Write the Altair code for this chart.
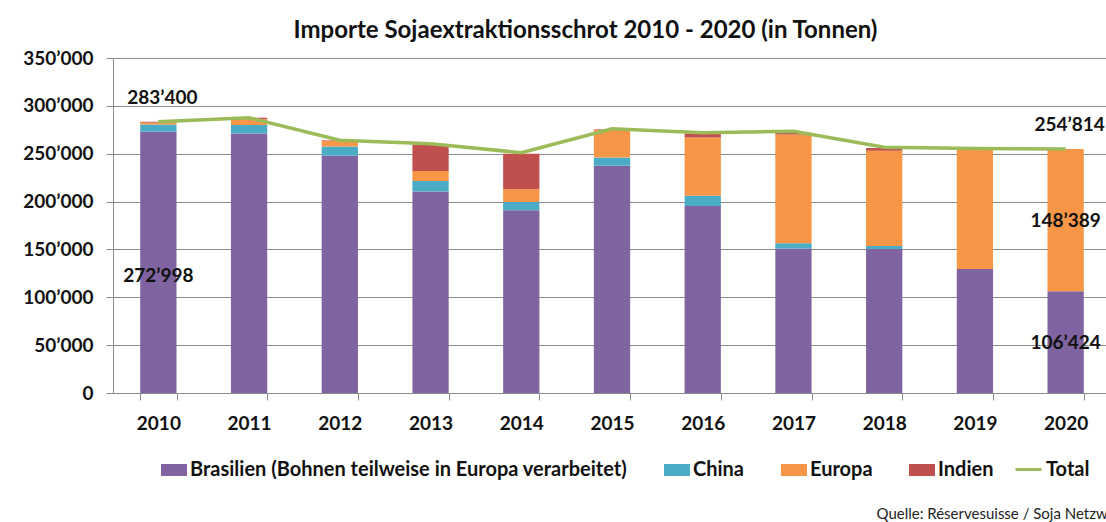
import altair as alt
import pandas as pd

years = ["2010", "2011", "2012", "2013", "2014", "2015", "2016", "2017", "2018", "2019", "2020"]
brasilien = [272998, 271000, 248000, 210500, 191000, 237500, 195500, 151000, 150500, 129500, 106424]
china = [7500, 9000, 9500, 11000, 8500, 8500, 10500, 5500, 3000, 0, 0]
europa = [2000, 6000, 6000, 10500, 13500, 29000, 61000, 113500, 99500, 125500, 148389]
indien = [900, 1500, 500, 27500, 37000, 500, 4000, 2000, 3000, 0, 1]
total = [283400, 287500, 264000, 260500, 251000, 276000, 272000, 273500, 256700, 255500, 254814]

series_names = ["Brasilien (Bohnen teilweise in Europa verarbeitet)", "China", "Europa", "Indien"]
series_colors = ["#8064A2", "#4BACC6", "#F79646", "#C0504D"]
total_name = "Total"
total_color = "#9BBB59"
y_ticks = [0, 50000, 100000, 150000, 200000, 250000, 300000, 350000]

title_text = "Importe Sojaextraktionsschrot 2010 - 2020 (in Tonnen)"
source_text = "Quelle: Réservesuisse / Soja Netzwerk"

FONT = "Lato"
FS = 19
LFS = 20


def fmt(v):
    return f"{v:,}".replace(",", "\u2019")


rows = []
series_vals = [brasilien, china, europa, indien]
for i, yr in enumerate(years):
    for k, name in enumerate(series_names):
        rows.append({"Jahr": yr, "Herkunft": name, "Tonnen": series_vals[k][i], "ord": k})
bars_df = pd.DataFrame(rows)
total_df = pd.DataFrame({"Jahr": years, "Tonnen": total, "Serie": total_name})

# data labels (anchored on data values)
lab_total = pd.DataFrame({
    "Jahr": [years[0], years[-1]],
    "Tonnen": [total[0], total[-1]],
    "txt": [fmt(total[0]), fmt(total[-1])],
})
lab_bras10 = pd.DataFrame({
    "Jahr": [years[0]],
    "Tonnen": [brasilien[0] / 2],
    "txt": [fmt(brasilien[0])],
})
lab_2020 = pd.DataFrame({
    "Jahr": [years[-1], years[-1]],
    "Tonnen": [brasilien[-1] / 2, brasilien[-1] + europa[-1] / 2],
    "txt": [fmt(brasilien[-1]), fmt(europa[-1])],
})

x_scale = alt.Scale(domain=years, range=[0, 998], paddingInner=0.6, paddingOuter=0.3)
y_scale = alt.Scale(domain=[0, 350000], nice=False)

x_axis = alt.Axis(
    title=source_text,
    titleFont=FONT, titleFontSize=15, titleFontWeight="normal", titleColor="#222222",
    titleX=763, titleY=125, titleAlign="left", titleBaseline="alphabetic", titleAnchor="start",
    labelFont=FONT, labelFontSize=FS, labelFontWeight="bold", labelColor="#111111",
    labelPadding=14, labelAngle=0,
    tickBand="extent", tickSize=7, tickColor="#8c8c8c",
    domainColor="#8c8c8c", grid=False,
)
y_axis = alt.Axis(
    title=None, values=y_ticks,
    labelExpr="replace(format(datum.value, ','), regexp(',', 'g'), '\u2019')",
    labelFont=FONT, labelFontSize=FS, labelFontWeight="bold", labelColor="#111111",
    labelPadding=13, tickSize=7, tickColor="#8c8c8c",
    domainColor="#8c8c8c", gridColor="#8c8c8c", gridWidth=1,
)

rect_path = "M-1,-0.46L1,-0.46L1,0.46L-1,0.46Z"

bars = alt.Chart(bars_df).mark_bar().encode(
    x=alt.X("Jahr:N", scale=x_scale, sort=years, axis=x_axis),
    y=alt.Y("Tonnen:Q", stack="zero", scale=y_scale, axis=y_axis),
    color=alt.Color(
        "Herkunft:N",
        scale=alt.Scale(domain=series_names, range=series_colors),
        legend=alt.Legend(
            title=None, orient="none", direction="horizontal", legendX=48, legendY=399,
            symbolType=rect_path, symbolSize=676, symbolStrokeWidth=0,
            labelFont=FONT, labelFontSize=LFS, labelFontWeight="bold", labelColor="#111111",
            labelLimit=700, labelOffset=3, columnPadding=36,
        ),
    ),
    order=alt.Order("ord:Q", sort="ascending"),
)

line = alt.Chart(total_df).mark_line(strokeWidth=3.5).encode(
    x=alt.X("Jahr:N", scale=x_scale, sort=years),
    y=alt.Y("Tonnen:Q", scale=y_scale),
    stroke=alt.Stroke(
        "Serie:N",
        scale=alt.Scale(domain=[total_name], range=[total_color]),
        legend=alt.Legend(
            title=None, orient="none", direction="horizontal", legendX=901, legendY=397,
            symbolType="M-1,0L1,0", symbolSize=676, symbolStrokeWidth=3,
            labelFont=FONT, labelFontSize=LFS, labelFontWeight="bold", labelColor="#111111",
            labelOffset=3,
        ),
    ),
)


def labels(df, dy, dx=0):
    return alt.Chart(df).mark_text(
        font=FONT, fontSize=FS, fontWeight="bold", color="#111111", dy=dy, dx=dx, baseline="middle"
    ).encode(
        x=alt.X("Jahr:N", scale=x_scale, sort=years),
        y=alt.Y("Tonnen:Q", scale=y_scale),
        text="txt:N",
    )


chart = alt.layer(
    bars, line, labels(lab_total, -24, 4), labels(lab_bras10, 14), labels(lab_2020, 1)
).properties(
    width=993,
    height=335,
    autosize=alt.AutoSizeParams(type="none"),
    padding={"left": 113, "top": 58, "right": 0, "bottom": 129},
    title=alt.TitleParams(
        title_text, font=FONT, fontSize=24, fontWeight="bold", color="#111111",
        anchor="middle", dx=-24, offset=6,
    ),
).configure_view(stroke=None).configure(background="white")

chart.save("out.html", embed_options={"renderer": "svg", "actions": False})
